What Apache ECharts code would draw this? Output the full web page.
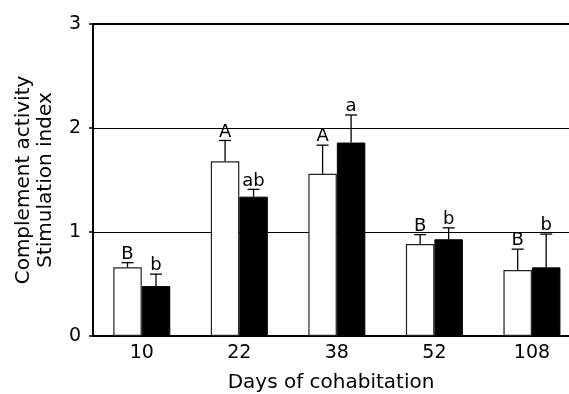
<!DOCTYPE html>
<html>
<head>
<meta charset="utf-8">
<script src="https://cdn.jsdelivr.net/npm/echarts@6/dist/echarts.min.js"></script>
<style>html,body{margin:0;padding:0;background:#fff}#c{width:569px;height:394px}</style>
</head>
<body>
<div id="c"></div>
<script>
const categories = ['10', '22', '38', '52', '108'];
const whiteMeans = [0.66, 1.68, 1.56, 0.885, 0.635];
const whiteSE = [0.045, 0.2, 0.275, 0.09, 0.2];
const blackMeans = [0.48, 1.34, 1.86, 0.93, 0.66];
const blackSE = [0.115, 0.07, 0.265, 0.11, 0.32];
const whiteLetters = ['B', 'A', 'A', 'B', 'B'];
const blackLetters = ['b', 'ab', 'a', 'b', 'b'];
const yTicks = [0, 1, 2, 3];

const BAR_W = 28.5;
const FONT = '"DejaVu Sans", sans-serif';
const X_MIN = -0.5;
const X_MAX = 4.38; // plot area is cut off by the right edge of the picture
const catIdx = categories.map((c, i) => i);

const chart = echarts.init(document.getElementById('c'), null, {renderer: 'canvas'});

function barData(means) {
  return means.map((m, i) => [i, m]);
}
function errData(means, se, letters) {
  return means.map((m, i) => [i, m, m + se[i], letters[i]]);
}

function errRender(side) {
  return function (params, api) {
    const c = api.coord([api.value(0), api.value(1)]);
    const t = api.coord([api.value(0), api.value(2)]);
    const x = c[0] + side * BAR_W / 2;
    const capHalf = 6;
    return {
      type: 'group',
      children: [
        {type: 'line', shape: {x1: x, y1: c[1], x2: x, y2: t[1]}, style: {stroke: '#000', lineWidth: 1.3}},
        {type: 'line', shape: {x1: x - capHalf, y1: t[1], x2: x + capHalf, y2: t[1]}, style: {stroke: '#000', lineWidth: 1.3}},
        {type: 'text', x: x, y: t[1] + 0.5, style: {text: api.value(3), fill: '#000', font: '18px ' + FONT, align: 'center', verticalAlign: 'bottom'}}
      ]
    };
  };
}

chart.setOption({
  animation: false,
  grid: {left: 93, right: 0, top: 24, bottom: 58, show: false, containLabel: false, outerBoundsMode: 'none'},
  xAxis: [{
    type: 'value',
    min: X_MIN, max: X_MAX,
    name: 'Days of cohabitation',
    nameLocation: 'middle',
    nameGap: 37,
    nameTextStyle: {fontSize: 20, color: '#000', fontFamily: FONT},
    axisLine: {show: true, onZero: false, lineStyle: {color: '#000', width: 2}},
    axisTick: {show: false},
    splitLine: {show: false},
    axisLabel: {fontSize: 19, color: '#000', fontFamily: FONT, margin: 8,
      customValues: catIdx,
      formatter: v => categories[Math.round(v)] || ''}
  }, {
    type: 'value',
    position: 'top',
    min: X_MIN, max: X_MAX,
    axisLine: {show: true, onZero: false, lineStyle: {color: '#000', width: 2}},
    axisTick: {show: false},
    axisLabel: {show: false},
    splitLine: {show: false}
  }],
  yAxis: {
    type: 'value',
    min: 0, max: 3, interval: 1,
    name: 'Complement activity\nStimulation index',
    nameLocation: 'middle',
    nameGap: 36,
    nameTextStyle: {fontSize: 20, color: '#000', fontFamily: FONT, lineHeight: 22},
    axisLine: {show: true, onZero: false, lineStyle: {color: '#000', width: 2}},
    axisTick: {show: true, length: 4, lineStyle: {color: '#000', width: 1.5}},
    axisLabel: {fontSize: 19, color: '#000', fontFamily: FONT, margin: 12,
      formatter: v => yTicks.includes(v) ? String(v) : ''},
    splitLine: {show: true, lineStyle: {color: '#000', width: 1}}
  },
  series: [
    {type: 'bar', data: barData(whiteMeans), barWidth: BAR_W, barGap: '0%',
     itemStyle: {color: '#fff', borderColor: '#222', borderWidth: 1.2}, z: 3},
    {type: 'bar', data: barData(blackMeans), barWidth: BAR_W, barGap: '0%',
     itemStyle: {color: '#000', borderColor: '#000', borderWidth: 1}, z: 3},
    {type: 'custom', renderItem: errRender(-1), data: errData(whiteMeans, whiteSE, whiteLetters), z: 4, clip: false},
    {type: 'custom', renderItem: errRender(1), data: errData(blackMeans, blackSE, blackLetters), z: 4, clip: false}
  ]
});
</script>
</body>
</html>
